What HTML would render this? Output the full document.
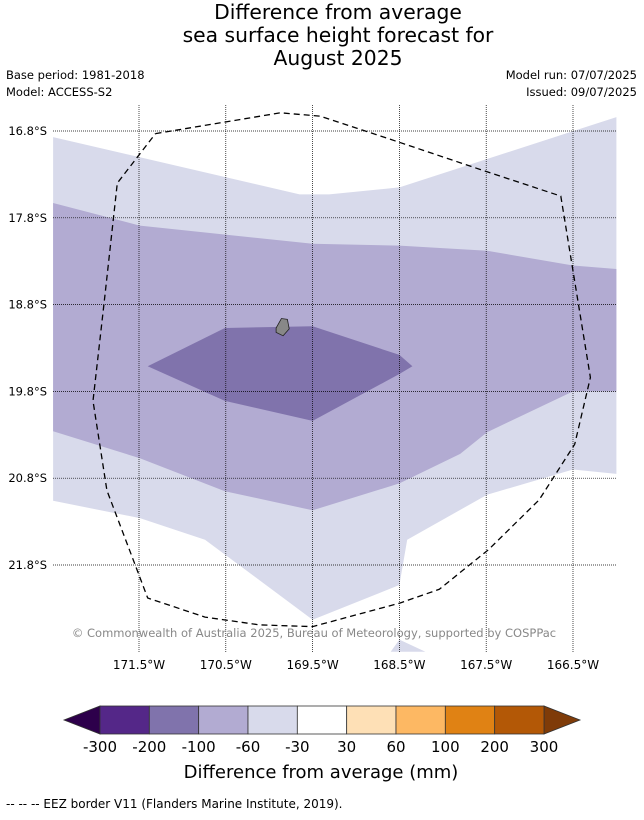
<!DOCTYPE html>
<html><head><meta charset="utf-8"><style>
body{margin:0;background:#fff;width:644px;height:816px;overflow:hidden;font-family:"DejaVu Sans","Liberation Sans",sans-serif}
svg text{font-family:"DejaVu Sans","Liberation Sans",sans-serif}
</style></head><body>
<svg id="c" width="644" height="816" xmlns="http://www.w3.org/2000/svg">
<text x="338" y="19" font-size="20.3" text-anchor="middle">Difference from average</text>
<text x="338" y="42" font-size="20.3" text-anchor="middle">sea surface height forecast for</text>
<text x="338" y="65" font-size="20.3" text-anchor="middle">August 2025</text>
<text x="6" y="79" font-size="11.5">Base period: 1981-2018</text>
<text x="6" y="96" font-size="11.5">Model: ACCESS-S2</text>
<text x="637" y="79" font-size="11.5" text-anchor="end">Model run: 07/07/2025</text>
<text x="637" y="96" font-size="11.5" text-anchor="end">Issued: 09/07/2025</text>
<g id="map"></g>
<g id="cbar"></g>
<text x="321" y="778" font-size="18" text-anchor="middle">Difference from average (mm)</text>
<text x="6" y="808" font-size="12">--  --  -- EEZ border V11 (Flanders Marine Institute, 2019).</text>
</svg>
<script>
// grid ticks
const lonTicks=[171.5,170.5,169.5,168.5,167.5,166.5];
const latTicks=[16.8,17.8,18.8,19.8,20.8,21.8];
// contour polygons [lonW, latS]
const band60=[[172.49,16.87],[169.65,17.53],[169.31,17.53],[168.5,17.45],[166.0,16.64],[166.0,20.75],[166.5,20.7],[167.49,20.99],[168.41,21.51],[168.5,22.03],[169.5,22.43],[170.74,21.51],[171.49,21.26],[172.49,21.06]];
const band60b=[[168.6,22.8],[168.5,22.66],[168.2,22.8]];
const band100=[[172.49,17.63],[171.49,17.89],[169.5,18.1],[168.5,18.12],[167.49,18.18],[166.5,18.35],[166.0,18.39],[166.0,19.8],[166.5,19.8],[167.49,20.27],[167.8,20.52],[168.5,20.86],[169.5,21.17],[170.51,20.95],[171.49,20.57],[172.49,20.26]];
const band200=[[171.4,19.51],[170.51,19.07],[169.5,19.05],[168.5,19.38],[168.35,19.51],[168.5,19.6],[169.5,20.14],[170.51,19.91]];
const eez=[[171.31,16.83],[169.87,16.59],[169.41,16.63],[168.5,16.93],[167.49,17.27],[166.64,17.55],[166.3,19.64],[166.48,20.41],[166.89,21.05],[167.47,21.62],[168.04,22.08],[168.5,22.24],[169.5,22.51],[170.11,22.49],[170.74,22.4],[171.4,22.18],[171.87,20.94],[172.03,19.91],[171.9,18.76],[171.75,17.4],[171.31,16.83]];
const island=[[169.92,19.07],[169.86,18.96],[169.79,18.97],[169.77,19.08],[169.84,19.16],[169.92,19.12]];
const cbLevels=["-300","-200","-100","-60","-30","30","60","100","200","300"];
const cbColors=["#542788","#8073ac","#b2abd2","#d8daeb","#ffffff","#fee0b6","#fdb863","#e08214","#b35806"];
const NS="http://www.w3.org/2000/svg";
const X=l=>139+(171.5-l)*86.8, Y=l=>131+(l-16.8)*86.8;
const L=53,R=617,T=105,B=652;
function mk(t,a,p){const e=document.createElementNS(NS,t);for(const k in a)e.setAttribute(k,a[k]);p.appendChild(e);return e;}
const map=document.getElementById('map');
const defs=mk('defs',{},map);const cp=mk('clipPath',{id:'clp'},defs);mk('rect',{x:L,y:T,width:R-L,height:B-T},cp);
const g=mk('g',{'clip-path':'url(#clp)'},map);
const pts=a=>a.map(p=>X(p[0]).toFixed(1)+','+Y(p[1]).toFixed(1)).join(' ');
[[band60,'#d8daeb','contour-minus30-60'],[band60b,'#d8daeb','contour-minus30-60-south'],[band100,'#b2abd2','contour-minus60-100'],[band200,'#8073ac','contour-minus100-200']].forEach(([d,c,n])=>{
 const e=mk('polygon',{points:pts(d),fill:c},g);
 
 
});
const isl=mk('polygon',{points:pts(island),fill:'#888',stroke:'#222','stroke-width':0.8},g);


lonTicks.forEach(l=>{
 const ln=mk('line',{x1:X(l),x2:X(l),y1:T,y2:B,stroke:'#000','stroke-width':0.7,'stroke-dasharray':'1,1'},g);
 
 
 const t=mk('text',{x:X(l),y:669,'font-size':12,'text-anchor':'middle'},map);t.textContent=l+'°W';
 
 
});
latTicks.forEach(l=>{
 const ln=mk('line',{x1:L,x2:R,y1:Y(l),y2:Y(l),stroke:'#000','stroke-width':0.7,'stroke-dasharray':'1,1'},g);
 
 
 const t=mk('text',{x:47,y:Y(l)+4,'font-size':11.5,'text-anchor':'end'},map);t.textContent=l+'°S';
 
 
});
const ez=mk('polyline',{points:pts(eez),fill:'none',stroke:'#000','stroke-width':1.3,'stroke-dasharray':'6,4'},g);


const cr=mk('text',{x:314,y:637,'font-size':11.5,'text-anchor':'middle',fill:'#888'},map);
cr.textContent='© Commonwealth of Australia 2025, Bureau of Meteorology, supported by COSPPac';


// colorbar
const cb=document.getElementById('cbar');
const cx0=100,cx1=544,cy0=706,cy1=734,w=(cx1-cx0)/cbColors.length;
const lt=mk('polygon',{points:`${cx0},${cy0} ${cx0},${cy1} 64,720`,fill:'#2d004b',stroke:'#333','stroke-width':0.8},cb);


const rt=mk('polygon',{points:`${cx1},${cy0} ${cx1},${cy1} 580,720`,fill:'#7f3b08',stroke:'#333','stroke-width':0.8},cb);


cbColors.forEach((c,i)=>{
 const r=mk('rect',{x:cx0+i*w,y:cy0,width:w,height:cy1-cy0,fill:c,stroke:'#333','stroke-width':0.8},cb);
 
 
});
cbLevels.forEach((s,i)=>{
 const t=mk('text',{x:cx0+i*w,y:752,'font-size':15,'text-anchor':'middle'},cb);t.textContent=s;
 
 
});
</script>
</body></html>
